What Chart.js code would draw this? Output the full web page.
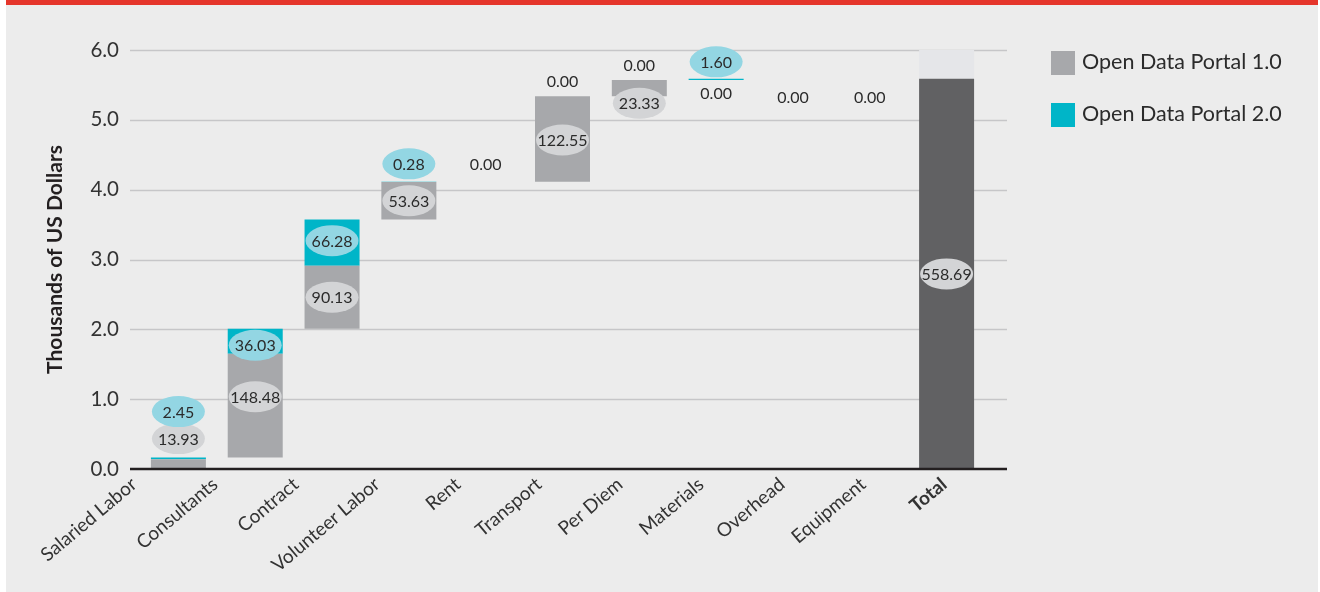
<!DOCTYPE html>
<html>
<head>
<meta charset="utf-8">
<title>Open Data Portal cost breakdown</title>
<script src="https://cdn.jsdelivr.net/npm/chart.js@4.4.1/dist/chart.umd.min.js"></script>
<style>
  html, body { margin: 0; padding: 0; background: #ffffff; }
  #panel {
    position: absolute; left: 6px; top: 0; width: 1312px; height: 587px;
    background: #ececec; border-top: 5px solid #e5352b;
  }
  #cost-chart { position: absolute; left: 0; top: 0; }
</style>
</head>
<body>
<div id="panel"></div>
<canvas id="cost-chart" width="1320" height="592"></canvas>
<script>
const CATEGORIES = ['Salaried Labor', 'Consultants', 'Contract', 'Volunteer Labor', 'Rent',
  'Transport', 'Per Diem', 'Materials', 'Overhead', 'Equipment'];
const TOTAL_LABEL = 'Total';

// values as printed on the labels; the axis is in thousands, labels in hundredths of that
const PORTAL_1 = [13.93, 148.48, 90.13, 53.63, 0.00, 122.55, 23.33, 0.00, 0.00, 0.00];
const PORTAL_2 = [2.45, 36.03, 66.28, 0.28, 0.00, 0.00, 0.00, 1.60, 0.00, 0.00];
const LABEL_UNITS_PER_TICK = 100;

const Y_TICKS = [0, 1, 2, 3, 4, 5, 6];
const Y_MAX = 6;

// where each value label sits: [anchor, dy] for 1.0 and 2.0, null = not drawn
const LABEL_SPOTS = [
  [['top', -19], ['top', -46]],
  [['mid', -9], ['mid', 4]],
  [['mid', 0], ['mid', -2]],
  [['mid', 0], ['top', -18]],
  [['top', -18], null],
  [['mid', 1], ['top', -15]],
  [['start', 7], ['top', -15]],
  [['start', 13], ['top', -17]],
  [['top', 18], null],
  [['top', 18], null],
];

const GREY = '#a7a8ab';
const CYAN = '#00b5c8';
const DARK = '#616163';
const HEADROOM = '#e5e6e9';
const GREY_PILL = '#d3d4d6';
const CYAN_PILL = '#93d6e3';
const TEXT = '#2b2b2b';
const FONT = 'Lato, "Open Sans", sans-serif';

// running waterfall segments
const seg1 = [];
const seg2 = [];
let running = 0;
CATEGORIES.forEach((_, i) => {
  const a = PORTAL_1[i] / LABEL_UNITS_PER_TICK;
  const b = PORTAL_2[i] / LABEL_UNITS_PER_TICK;
  seg1.push([running, running + a]);
  seg2.push([running + a, running + a + b]);
  running += a + b;
});
const totalValue = PORTAL_1.reduce((s, v) => s + v, 0) + PORTAL_2.reduce((s, v) => s + v, 0);
const totalTop = totalValue / LABEL_UNITS_PER_TICK;

const labels = [...CATEGORIES, TOTAL_LABEL];
const pad = (arr) => [...arr, null];
const onlyTotal = (v) => [...CATEGORIES.map(() => null), v];

const drawPill = (ctx, x, y, text, fill) => {
  if (fill) {
    ctx.fillStyle = fill;
    ctx.beginPath();
    ctx.ellipse(x, y, 26.5, 15.5, 0, 0, Math.PI * 2);
    ctx.fill();
  }
  ctx.fillStyle = TEXT;
  ctx.font = `16px ${FONT}`;
  ctx.textAlign = 'center';
  ctx.textBaseline = 'middle';
  ctx.fillText(text, x, y + 1);
};

const gridPlugin = {
  id: 'extendedGrid',
  beforeDatasetsDraw(chart) {
    const { ctx, scales: { y } } = chart;
    const left = 130;
    const right = 1007;
    ctx.save();
    Y_TICKS.forEach((t) => {
      if (t === 0) return;
      const py = Math.round(y.getPixelForValue(t)) + 0.5;
      ctx.strokeStyle = '#c6c6c8';
      ctx.lineWidth = 1.5;
      ctx.beginPath();
      ctx.moveTo(left, py);
      ctx.lineTo(right, py);
      ctx.stroke();
    });
    ctx.restore();
  },
  afterDatasetsDraw(chart) {
    const { ctx, scales: { y } } = chart;
    const py = y.getPixelForValue(0);
    ctx.save();
    ctx.strokeStyle = '#231f20';
    ctx.lineWidth = 2.5;
    ctx.beginPath();
    ctx.moveTo(130, py);
    ctx.lineTo(1007, py);
    ctx.stroke();
    ctx.restore();
  },
};

const valueLabelPlugin = {
  id: 'valueLabels',
  afterDatasetsDraw(chart) {
    const { ctx } = chart;
    const m1 = chart.getDatasetMeta(0).data;
    const m2 = chart.getDatasetMeta(1).data;
    ctx.save();
    CATEGORIES.forEach((_, i) => {
      const top = m2[i].y;
      [[m1[i], PORTAL_1[i], GREY_PILL], [m2[i], PORTAL_2[i], CYAN_PILL]].forEach(([bar, value, pill], s) => {
        const spot = LABEL_SPOTS[i][s];
        if (!spot) return;
        const [anchor, dy] = spot;
        let py = top;
        if (anchor === 'mid') py = (bar.y + bar.base) / 2;
        if (anchor === 'start') py = bar.base;
        drawPill(ctx, bar.x, py + dy, value.toFixed(2), value !== 0 ? pill : null);
      });
    });
    const t = chart.getDatasetMeta(2).data[CATEGORIES.length];
    drawPill(ctx, t.x, (t.y + t.base) / 2, totalValue.toFixed(2), GREY_PILL);
    ctx.restore();
  },
};

const legendPlugin = {
  id: 'sideLegend',
  afterDraw(chart) {
    const { ctx } = chart;
    ctx.save();
    chart.data.datasets.slice(0, 2).forEach((ds, i) => {
      const top = 51 + i * 52;
      ctx.fillStyle = ds.backgroundColor;
      ctx.fillRect(1051, top, 24, 24);
      ctx.fillStyle = TEXT;
      ctx.font = `21.5px ${FONT}`;
      ctx.textAlign = 'left';
      ctx.textBaseline = 'middle';
      ctx.fillText(ds.label, 1082, top + 11);
    });
    ctx.restore();
  },
};

Chart.defaults.font.family = FONT;
Chart.defaults.color = TEXT;

const barStyle = { barPercentage: 0.716, categoryPercentage: 1, borderWidth: 0, borderSkipped: false };

new Chart(document.getElementById('cost-chart'), {
  type: 'bar',
  data: {
    labels,
    datasets: [
      { label: 'Open Data Portal 1.0', data: pad(seg1), backgroundColor: GREY, ...barStyle },
      { label: 'Open Data Portal 2.0', data: pad(seg2), backgroundColor: CYAN, ...barStyle },
      { label: 'Total', data: onlyTotal([0, totalTop]), backgroundColor: DARK, ...barStyle },
      { label: 'Headroom', data: onlyTotal([totalTop, Y_MAX]), backgroundColor: HEADROOM, ...barStyle },
    ],
  },
  options: {
    responsive: false,
    animation: false,
    layout: { padding: { top: 50, right: 335, bottom: 0, left: 0 } },
    plugins: {
      legend: { display: false },
      tooltip: { enabled: false },
    },
    scales: {
      x: {
        stacked: true,
        grid: { display: false, drawTicks: false },
        border: { display: false },
        ticks: { display: false },
        afterFit: (scale) => { scale.height = 0; },
      },
      // category names run on their own, slightly wider spaced axis
      names: {
        type: 'linear',
        position: 'bottom',
        offset: false,
        min: -0.05,
        max: 10.38,
        grid: { display: false, drawTicks: false },
        border: { display: false },
        afterFit: (scale) => { scale.height = 123; },
        afterBuildTicks: (scale) => { scale.ticks = labels.map((_, i) => ({ value: i })); },
        ticks: {
          autoSkip: false,
          maxRotation: 40,
          minRotation: 40,
          padding: 4,
          labelOffset: -10,
          color: '#333333',
          callback: (v) => labels[v],
          font: (c) => ({ size: 19, weight: c.index === CATEGORIES.length ? 'bold' : 'normal' }),
        },
      },
      y: {
        stacked: false,
        min: 0,
        max: Y_MAX,
        grid: { display: false, drawTicks: false },
        border: { display: false },
        afterFit: (scale) => { scale.width = 140; },
        afterBuildTicks: (scale) => { scale.ticks = Y_TICKS.map((v) => ({ value: v })); },
        ticks: {
          padding: 21,
          color: '#333333',
          font: { size: 20.5 },
          callback: (v) => Number(v).toFixed(1),
        },
        title: {
          display: true,
          text: 'Thousands of US Dollars',
          color: '#231f20',
          font: { size: 21, weight: 'bold' },
          padding: { top: 43, bottom: 0 },
        },
      },
    },
  },
  plugins: [gridPlugin, valueLabelPlugin, legendPlugin],
});
</script>
</body>
</html>
